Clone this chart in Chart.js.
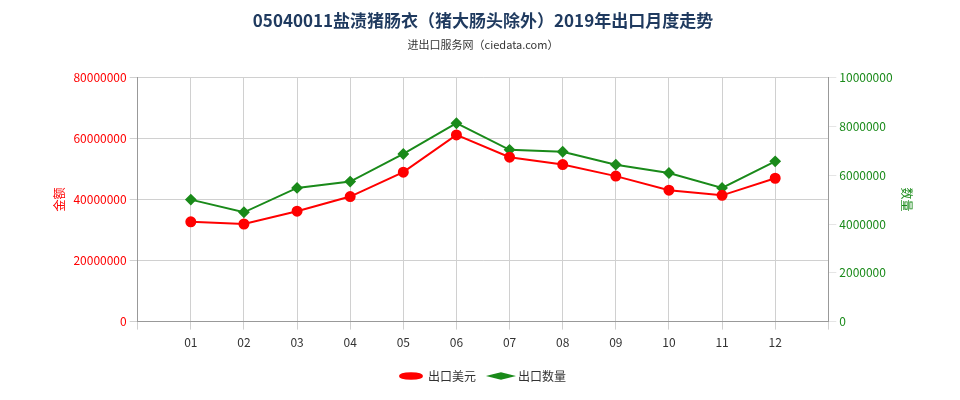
<!DOCTYPE html>
<html><head><meta charset="utf-8">
<script src="https://cdn.jsdelivr.net/npm/chart.js@4/dist/chart.umd.min.js"></script>
<style>body{margin:0;background:#fff}#w{width:960px;height:400px}</style>
</head><body><div id="w"><canvas id="c"></canvas></div>
<script>
const months = ['', '01','02','03','04','05','06','07','08','09','10','11','12', ''];
const usdValues = [null, 32700000, 32000000, 36200000, 41000000, 49000000, 61200000, 53900000, 51500000, 47700000, 43100000, 41400000, 47000000, null];
const qtyValues = [null, 5000000, 4480000, 5480000, 5740000, 6870000, 8130000, 7040000, 6960000, 6430000, 6090000, 5480000, 6570000, null];
const leftTicks = [0, 20000000, 40000000, 60000000, 80000000];
const rightTicks = [0, 2000000, 4000000, 6000000, 8000000, 10000000];
const font = "'Noto Sans CJK SC', 'DejaVu Sans', sans-serif";
new Chart(document.getElementById('c'), {
  type: 'line',
  data: { labels: months, datasets: [
    { label: '出口美元', data: usdValues, borderColor: '#ff0000', backgroundColor: '#ff0000', yAxisID: 'y', pointRadius: 4.5, pointStyle: 'circle', borderWidth: 2 },
    { label: '出口数量', data: qtyValues, borderColor: '#1a8a1a', backgroundColor: '#1a8a1a', yAxisID: 'y1', pointRadius: 4.5, pointStyle: 'rectRot', borderWidth: 2 }
  ]},
  options: {
    responsive: true, maintainAspectRatio: false, animation: false,
    layout: { padding: { left: 48, right: 42, top: 2, bottom: 8 } },
    plugins: {
      title: { display: true, text: '05040011盐渍猪肠衣（猪大肠头除外）2019年出口月度走势', color: '#1f3a5f', font: { family: font, size: 17, weight: 'bold' }, padding: { top: 8, bottom: 8 } },
      subtitle: { display: true, text: '进出口服务网（ciedata.com）', color: '#333', font: { family: font, size: 11 }, padding: { bottom: 26 } },
      legend: { position: 'bottom', labels: { usePointStyle: true, pointStyleWidth: 22, font: { family: font, size: 12 }, color: '#333', boxHeight: 4, padding: 14 } }
    },
    scales: {
      x: { offset: false, grid: { color: '#d0d0d0' }, ticks: { color: '#333', font: { family: font, size: 12 }, autoSkip: false, padding: 6 }, border: { color: '#999' } },
      y: { position: 'left', min: 0, max: 80000000, afterBuildTicks: a => { a.ticks = leftTicks.map(v => ({ value: v })); },
        ticks: { color: '#ff0000', font: { family: font, size: 12 }, callback: v => String(v) }, grid: { color: '#d0d0d0' },
        title: { display: true, text: '金额', color: '#ff0000', font: { family: font, size: 12 } }, border: { color: '#999' } },
      y1: { position: 'right', min: 0, max: 10000000, afterBuildTicks: a => { a.ticks = rightTicks.map(v => ({ value: v })); },
        ticks: { color: '#1a8a1a', font: { family: font, size: 12 }, callback: v => String(v) }, grid: { drawOnChartArea: false },
        title: { display: true, text: '数量', color: '#1a8a1a', font: { family: font, size: 12 } }, border: { color: '#999' } }
    }
  }
});
</script></body></html>
